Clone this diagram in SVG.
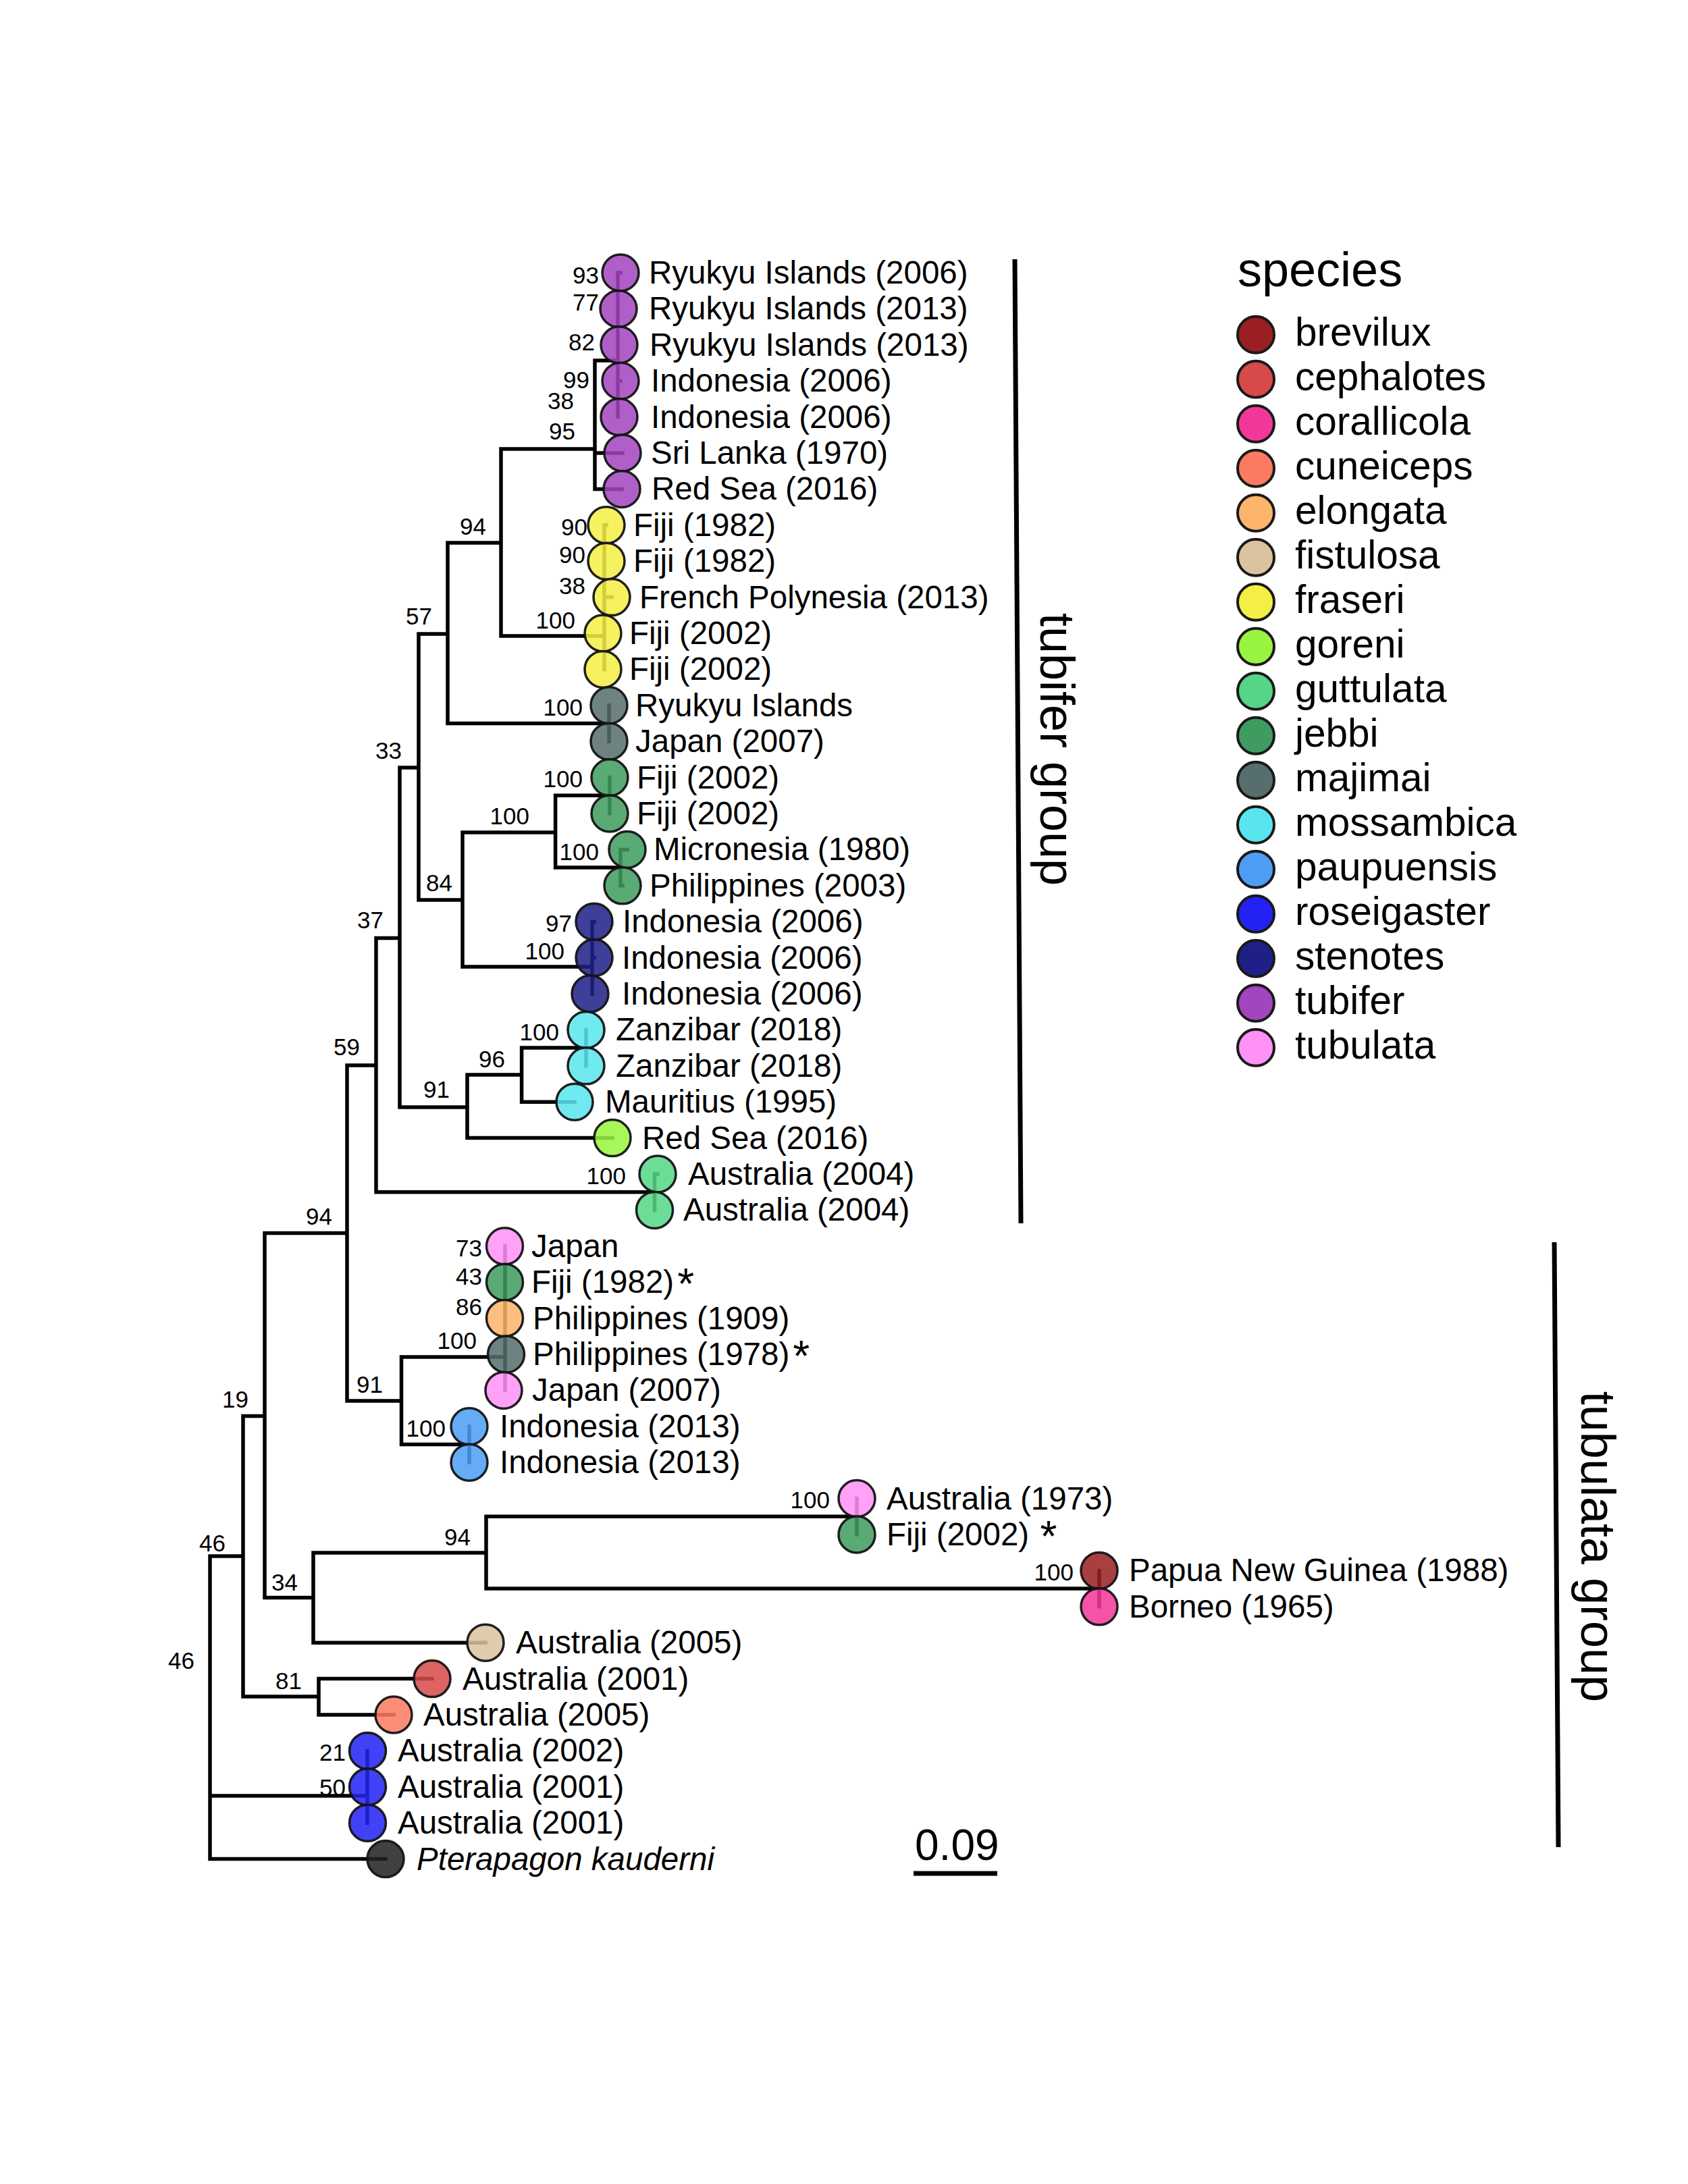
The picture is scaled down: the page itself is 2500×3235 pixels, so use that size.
<svg xmlns="http://www.w3.org/2000/svg" width="2500" height="3235" viewBox="0 0 2500 3235">
<style>
text{font-family:"Liberation Sans",Arial,Helvetica,sans-serif;fill:#000}
.br{fill:none;stroke:#000;stroke-width:5.5;stroke-linecap:square;stroke-linejoin:miter}
.bar{stroke:#000;stroke-width:7;fill:none}
.tp circle{fill-opacity:0.86;stroke:#141414;stroke-opacity:0.95;stroke-width:3.5}
.tp text{font-size:47.5px}
.bs text{font-size:35px;text-anchor:end}
.lg circle{stroke:#1a1a1a;stroke-width:4}
.lg text{font-size:58.5px}
.lg text.title{font-size:72px}
.grp{font-size:72px}
.sc{font-size:64px}
.ast{font-size:64px}
.brevilux{fill:#9a1f22}.cephalotes{fill:#d64a4a}.corallicola{fill:#f2379a}.cuneiceps{fill:#fb7b62}
.elongata{fill:#fdb46b}.fistulosa{fill:#dcc3a0}.fraseri{fill:#f4ef44}.goreni{fill:#98f43f}
.guttulata{fill:#55d686}.jebbi{fill:#3f9c60}.majimai{fill:#566e6e}.mossambica{fill:#58e5ee}
.paupuensis{fill:#4d9df5}.roseigaster{fill:#2222f5}.stenotes{fill:#1e2088}.tubifer{fill:#a345bf}
.tubulata{fill:#fe92f6}.outgroup{fill:#222}
</style>
<rect width="2500" height="3235" fill="#fff"/>
<g id="connectors">
<path class="br" d="M311 2305V2753.6M311 2305H360M311 2660H544M311 2753.6H571
M360 2097.5V2513M360 2097.5H392M360 2513H472
M472 2486.6V2540M472 2486.6H640M472 2540H583
M392 1826.5V2366.5M392 1826.5H514M392 2366.5H464
M464 2300V2433.2M464 2300H720M464 2433.2H719
M720 2246.3V2353.1M720 2246.3H1269M720 2353.1H1628
M1269 2219.6V2273M1628 2326.4V2379.8
M544 2593.4V2700.2
M514 1578V2075M514 1578H557M514 2075H594.5
M594.5 2010V2139.5M594.5 2010H748M594.5 2139.5H695
M748 1845.8V2059.4M695 2112.8V2166.2
M557 1389.5V1765.7M557 1389.5H592M557 1765.7H969.5
M969.5 1739V1792.4M969.5 1739H974
M592 1137V1640M592 1137H620M592 1640H692
M692 1592V1685.6M692 1592H772.6M692 1685.6H907
M772.6 1552V1632.2M772.6 1552H868M772.6 1632.2H851
M868 1525.4V1578.8
M620 939V1333M620 939H663M620 1333H685
M685 1233V1432M685 1233H822.6M685 1432H877
M877 1365.2V1472M877 1365.2H880M877 1418.6H880
M822.6 1178.3V1285.1M822.6 1178.3H903M822.6 1285.1H919
M903 1151.6V1205M919 1258.4V1311.8M919 1258.4H929M919 1311.8H922
M663 804V1071.5M663 804H742M663 1071.5H902
M902 1044.8V1098.2
M742 665V942M742 665H881M742 942H895
M895 777.8V991.4M895 884.6H906M895 777.8H898
M881 534V724.4M881 534H915M881 671H922M881 724.4H921
M915 404V617.6M915 404H919M915 564.2H919"/>
</g>
<g id="tips" class="tp">
<g id="tip01"><circle class="tubifer" cx="919" cy="404" r="27"/><text x="961" y="420">Ryukyu Islands (2006)</text></g>
<g id="tip02"><circle class="tubifer" cx="916" cy="457.4" r="27"/><text x="961" y="473.4">Ryukyu Islands (2013)</text></g>
<g id="tip03"><circle class="tubifer" cx="917" cy="510.8" r="27"/><text x="962" y="526.8">Ryukyu Islands (2013)</text></g>
<g id="tip04"><circle class="tubifer" cx="919" cy="564.2" r="27"/><text x="964" y="580.2">Indonesia (2006)</text></g>
<g id="tip05"><circle class="tubifer" cx="917" cy="617.6" r="27"/><text x="964" y="633.6">Indonesia (2006)</text></g>
<g id="tip06"><circle class="tubifer" cx="922" cy="671" r="27"/><text x="964" y="687">Sri Lanka (1970)</text></g>
<g id="tip07"><circle class="tubifer" cx="921" cy="724.4" r="27"/><text x="965" y="740.4">Red Sea (2016)</text></g>
<g id="tip08"><circle class="fraseri" cx="898" cy="777.8" r="27"/><text x="938" y="793.8">Fiji (1982)</text></g>
<g id="tip09"><circle class="fraseri" cx="898" cy="831.2" r="27"/><text x="938" y="847.2">Fiji (1982)</text></g>
<g id="tip10"><circle class="fraseri" cx="906" cy="884.6" r="27"/><text x="947" y="900.6">French Polynesia (2013)</text></g>
<g id="tip11"><circle class="fraseri" cx="893" cy="938" r="27"/><text x="932" y="954">Fiji (2002)</text></g>
<g id="tip12"><circle class="fraseri" cx="893" cy="991.4" r="27"/><text x="932" y="1007.4">Fiji (2002)</text></g>
<g id="tip13"><circle class="majimai" cx="902" cy="1044.8" r="27"/><text x="941" y="1060.8">Ryukyu Islands</text></g>
<g id="tip14"><circle class="majimai" cx="902" cy="1098.2" r="27"/><text x="941" y="1114.2">Japan (2007)</text></g>
<g id="tip15"><circle class="jebbi" cx="903" cy="1151.6" r="27"/><text x="943" y="1167.6">Fiji (2002)</text></g>
<g id="tip16"><circle class="jebbi" cx="903" cy="1205" r="27"/><text x="943" y="1221">Fiji (2002)</text></g>
<g id="tip17"><circle class="jebbi" cx="929" cy="1258.4" r="27"/><text x="968" y="1274.4">Micronesia (1980)</text></g>
<g id="tip18"><circle class="jebbi" cx="922" cy="1311.8" r="27"/><text x="962" y="1327.8">Philippines (2003)</text></g>
<g id="tip19"><circle class="stenotes" cx="880" cy="1365.2" r="27"/><text x="922" y="1381.2">Indonesia (2006)</text></g>
<g id="tip20"><circle class="stenotes" cx="880" cy="1418.6" r="27"/><text x="921" y="1434.6">Indonesia (2006)</text></g>
<g id="tip21"><circle class="stenotes" cx="874" cy="1472" r="27"/><text x="921" y="1488">Indonesia (2006)</text></g>
<g id="tip22"><circle class="mossambica" cx="868" cy="1525.4" r="27"/><text x="912" y="1541.4">Zanzibar (2018)</text></g>
<g id="tip23"><circle class="mossambica" cx="868" cy="1578.8" r="27"/><text x="912" y="1594.8">Zanzibar (2018)</text></g>
<g id="tip24"><circle class="mossambica" cx="851" cy="1632.2" r="27"/><text x="896" y="1648.2">Mauritius (1995)</text></g>
<g id="tip25"><circle class="goreni" cx="907" cy="1685.6" r="27"/><text x="951" y="1701.6">Red Sea (2016)</text></g>
<g id="tip26"><circle class="guttulata" cx="974" cy="1739" r="27"/><text x="1019" y="1755">Australia (2004)</text></g>
<g id="tip27"><circle class="guttulata" cx="969.5" cy="1792.4" r="27"/><text x="1012" y="1808.4">Australia (2004)</text></g>
<g id="tip28"><circle class="tubulata" cx="747.5" cy="1845.8" r="27"/><text x="787" y="1861.8">Japan</text></g>
<g id="tip29"><circle class="jebbi" cx="747.5" cy="1899.2" r="27"/><text x="787" y="1915.2">Fiji (1982)<tspan class="ast" dx="5" dy="9">*</tspan></text></g>
<g id="tip30"><circle class="elongata" cx="747.5" cy="1952.6" r="27"/><text x="789" y="1968.6">Philippines (1909)</text></g>
<g id="tip31"><circle class="majimai" cx="749.5" cy="2006" r="27"/><text x="789" y="2022">Philippines (1978)<tspan class="ast" dx="5" dy="9">*</tspan></text></g>
<g id="tip32"><circle class="tubulata" cx="746" cy="2059.4" r="27"/><text x="788" y="2075.4">Japan (2007)</text></g>
<g id="tip33"><circle class="paupuensis" cx="695" cy="2112.8" r="27"/><text x="740" y="2128.8">Indonesia (2013)</text></g>
<g id="tip34"><circle class="paupuensis" cx="695" cy="2166.2" r="27"/><text x="740" y="2182.2">Indonesia (2013)</text></g>
<g id="tip35"><circle class="tubulata" cx="1269" cy="2219.6" r="27"/><text x="1313" y="2235.6">Australia (1973)</text></g>
<g id="tip36"><circle class="jebbi" cx="1269" cy="2273" r="27"/><text x="1313" y="2289">Fiji (2002) <tspan class="ast" dx="3" dy="9">*</tspan></text></g>
<g id="tip37"><circle class="brevilux" cx="1628" cy="2326.4" r="27"/><text x="1672" y="2342.4">Papua New Guinea (1988)</text></g>
<g id="tip38"><circle class="corallicola" cx="1628" cy="2379.8" r="27"/><text x="1672" y="2395.8">Borneo (1965)</text></g>
<g id="tip39"><circle class="fistulosa" cx="719" cy="2433.2" r="27"/><text x="764" y="2449.2">Australia (2005)</text></g>
<g id="tip40"><circle class="cephalotes" cx="640" cy="2486.6" r="27"/><text x="685" y="2502.6">Australia (2001)</text></g>
<g id="tip41"><circle class="cuneiceps" cx="583" cy="2540" r="27"/><text x="627" y="2556">Australia (2005)</text></g>
<g id="tip42"><circle class="roseigaster" cx="544.5" cy="2593.4" r="27"/><text x="589" y="2609.4">Australia (2002)</text></g>
<g id="tip43"><circle class="roseigaster" cx="544.5" cy="2646.8" r="27"/><text x="589" y="2662.8">Australia (2001)</text></g>
<g id="tip44"><circle class="roseigaster" cx="544.5" cy="2700.2" r="27"/><text x="589" y="2716.2">Australia (2001)</text></g>
<g id="tip45"><circle class="outgroup" cx="571" cy="2753.6" r="27"/><text x="617" y="2769.6" font-style="italic">Pterapagon kauderni</text></g>
</g>
<g id="support" class="bs">
<text x="887" y="420">93</text>
<text x="887" y="460">77</text>
<text x="881" y="519">82</text>
<text x="873" y="575">99</text>
<text x="850" y="606">38</text>
<text x="852" y="651">95</text>
<text x="720" y="792">94</text>
<text x="640" y="925">57</text>
<text x="870" y="793">90</text>
<text x="867" y="834">90</text>
<text x="867" y="880">38</text>
<text x="852" y="931">100</text>
<text x="863" y="1060">100</text>
<text x="595" y="1124">33</text>
<text x="863" y="1166">100</text>
<text x="784" y="1221">100</text>
<text x="887" y="1274">100</text>
<text x="670" y="1320">84</text>
<text x="568" y="1375">37</text>
<text x="847" y="1380">97</text>
<text x="836" y="1421">100</text>
<text x="828" y="1541">100</text>
<text x="533" y="1563">59</text>
<text x="748" y="1581">96</text>
<text x="666" y="1626">91</text>
<text x="927" y="1754">100</text>
<text x="492" y="1814">94</text>
<text x="714" y="1861">73</text>
<text x="714" y="1903">43</text>
<text x="714" y="1948">86</text>
<text x="706" y="1998">100</text>
<text x="567" y="2063">91</text>
<text x="368" y="2085">19</text>
<text x="660" y="2128">100</text>
<text x="1229" y="2234">100</text>
<text x="697" y="2289">94</text>
<text x="334" y="2298">46</text>
<text x="441" y="2356">34</text>
<text x="288" y="2472">46</text>
<text x="447" y="2502">81</text>
<text x="512" y="2608">21</text>
<text x="512" y="2660">50</text>
<text x="1590" y="2341">100</text>
</g>
<g id="group-tubifer">
<line class="bar" x1="1503" y1="384" x2="1512" y2="1812"/>
<text class="grp" transform="translate(1541,1110) rotate(90)" text-anchor="middle">tubifer group</text>
</g>
<g id="group-tubulata">
<line class="bar" x1="2302" y1="1840" x2="2308" y2="2736"/>
<text class="grp" transform="translate(2342,2291) rotate(90)" text-anchor="middle">tubulata group</text>
</g>
<g id="scale-bar">
<text class="sc" x="1355" y="2755">0.09</text>
<line class="bar" x1="1353" y1="2775" x2="1477" y2="2775"/>
</g>
<g id="legend" class="lg">
<text class="title" x="1833" y="424">species</text>
<g id="leg-brevilux"><circle class="brevilux" cx="1860" cy="495.7" r="27"/><text x="1918" y="511.7">brevilux</text></g>
<g id="leg-cephalotes"><circle class="cephalotes" cx="1860" cy="561.7" r="27"/><text x="1918" y="577.7">cephalotes</text></g>
<g id="leg-corallicola"><circle class="corallicola" cx="1860" cy="627.7" r="27"/><text x="1918" y="643.7">corallicola</text></g>
<g id="leg-cuneiceps"><circle class="cuneiceps" cx="1860" cy="693.7" r="27"/><text x="1918" y="709.7">cuneiceps</text></g>
<g id="leg-elongata"><circle class="elongata" cx="1860" cy="759.7" r="27"/><text x="1918" y="775.7">elongata</text></g>
<g id="leg-fistulosa"><circle class="fistulosa" cx="1860" cy="825.7" r="27"/><text x="1918" y="841.7">fistulosa</text></g>
<g id="leg-fraseri"><circle class="fraseri" cx="1860" cy="891.7" r="27"/><text x="1918" y="907.7">fraseri</text></g>
<g id="leg-goreni"><circle class="goreni" cx="1860" cy="957.7" r="27"/><text x="1918" y="973.7">goreni</text></g>
<g id="leg-guttulata"><circle class="guttulata" cx="1860" cy="1023.7" r="27"/><text x="1918" y="1039.7">guttulata</text></g>
<g id="leg-jebbi"><circle class="jebbi" cx="1860" cy="1089.7" r="27"/><text x="1918" y="1105.7">jebbi</text></g>
<g id="leg-majimai"><circle class="majimai" cx="1860" cy="1155.7" r="27"/><text x="1918" y="1171.7">majimai</text></g>
<g id="leg-mossambica"><circle class="mossambica" cx="1860" cy="1221.7" r="27"/><text x="1918" y="1237.7">mossambica</text></g>
<g id="leg-paupuensis"><circle class="paupuensis" cx="1860" cy="1287.7" r="27"/><text x="1918" y="1303.7">paupuensis</text></g>
<g id="leg-roseigaster"><circle class="roseigaster" cx="1860" cy="1353.7" r="27"/><text x="1918" y="1369.7">roseigaster</text></g>
<g id="leg-stenotes"><circle class="stenotes" cx="1860" cy="1419.7" r="27"/><text x="1918" y="1435.7">stenotes</text></g>
<g id="leg-tubifer"><circle class="tubifer" cx="1860" cy="1485.7" r="27"/><text x="1918" y="1501.7">tubifer</text></g>
<g id="leg-tubulata"><circle class="tubulata" cx="1860" cy="1551.7" r="27"/><text x="1918" y="1567.7">tubulata</text></g>
</g>
</svg>
